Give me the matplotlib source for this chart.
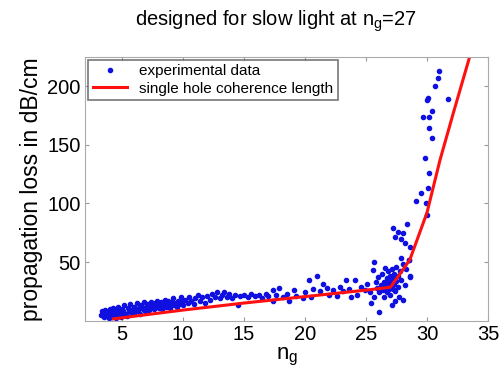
import matplotlib.pyplot as plt

plt.rcParams['font.family'] = ['Liberation Sans', 'DejaVu Sans']

# experimental data (n_g, loss in dB/cm)
exp_x = [3.3, 3.4, 3.5, 3.5, 3.6, 3.7, 3.8, 3.9, 4.0, 4.0, 4.1, 4.2, 4.3, 4.3, 4.4, 4.5, 4.5,
         4.6, 4.7, 4.8, 4.9, 5.0, 5.0, 5.1, 5.2, 5.3, 5.4, 5.5, 5.6, 5.7, 5.8, 5.9, 6.0, 6.1,
         6.2, 6.3, 6.4, 6.5, 6.6, 6.7, 6.8, 6.9, 7.0, 7.1, 7.2, 7.3, 7.4, 7.5, 7.6, 7.7, 7.8,
         7.9, 8.0, 8.1, 8.2, 8.3, 8.4, 8.5, 8.6, 8.7, 8.8, 8.9, 9.0, 9.1, 9.2, 9.3, 9.4, 9.5,
         9.6, 9.7, 9.8, 9.9, 10.0, 10.2, 10.4, 10.5, 10.7, 10.9, 11.0, 11.2, 11.4, 11.6, 11.8,
         12.0, 12.2, 12.4, 12.6, 12.8, 13.0, 13.2, 13.4, 13.6, 13.8, 14.0, 14.3, 14.5, 14.7,
         15.0, 15.3, 15.6, 15.9, 16.2, 16.5, 16.8, 17.0, 17.4, 17.4, 17.6, 17.9, 18.2, 18.5,
         18.7, 19.1, 19.3, 19.8, 20.0, 20.3, 20.5, 20.7, 21.0, 21.2, 21.5, 21.8, 22.0, 22.3,
         22.6, 22.9, 23.1, 23.4, 23.6, 23.8, 24.1, 24.3, 24.6, 24.9, 25.1, 25.3, 25.4, 25.6,
         25.7, 25.7, 25.8, 25.9, 26.0, 26.1, 26.1, 26.2, 26.3, 26.4, 26.5, 26.5, 26.6, 26.6,
         26.7, 26.7, 26.8, 26.8, 26.9, 26.9, 27.0, 27.0, 27.0, 27.1, 27.1, 27.1, 27.2, 27.2,
         27.3, 27.3, 27.4, 27.4, 27.5, 27.5, 27.6, 27.6, 27.7, 27.8, 27.9, 28.0, 28.0, 28.2,
         28.3, 28.5, 28.6, 28.6,
         27.2, 27.6, 28.0, 28.4, 27.4, 27.9, 28.2, 27.9, 28.5, 28.6,
         29.1, 29.5, 29.9, 30.0, 30.1, 30.2, 29.8, 30.4, 30.2, 30.2, 29.7, 30.4, 30.0, 30.1,
         31.7, 30.7, 30.9, 31.0]
exp_y = [5, 8, 3, 6, 9, 4, 7, 2, 5, 10, 3, 7, 4, 11, 6, 2, 9,
         5, 12, 7, 3, 10, 5, 8, 13, 6, 4, 11, 8, 14, 6, 10, 12, 7,
         15, 9, 11, 6, 13, 10, 16, 8, 12, 14, 9, 11, 16, 13, 10, 15, 12,
         17, 11, 14, 16, 10, 13, 18, 12, 15, 17, 11, 14, 16, 19, 13, 15, 12,
         17, 14, 20, 16, 13, 18, 15, 20, 17, 14, 19, 22, 17, 20, 15,
         21, 18, 23, 20, 24, 19, 22, 24, 20, 23, 19, 22, 13, 21,
         22, 20, 23, 21, 22, 19, 23, 21, 26, 17, 22, 28, 20, 23,
         17, 26, 21, 19, 24, 35, 20, 27, 38, 25, 31, 28, 22, 26,
         21, 29, 25, 35, 27, 20, 35, 22, 29, 26, 31, 24, 15, 43,
         20, 50, 33, 28, 37, 7, 24, 30, 40, 26, 33, 20, 45, 29,
         36, 24, 31, 42, 27, 34, 30, 38, 22, 13, 33, 44, 27, 36,
         31, 40, 17, 25, 34, 46, 29, 38, 20, 42, 35, 48, 18, 30,
         44, 52, 37, 63,
         79, 76, 75, 82, 71, 70, 66, 53, 52, 38,
         102, 109, 100, 90, 113, 126, 139, 156, 164, 174, 174, 179, 188, 190,
         189, 200, 207, 213]

# fitted single hole coherence length curve
fit_x = [4.3, 10, 15, 20, 25, 27, 27.8, 28.6, 30, 31.07, 32.16, 33.5, 34.0]
fit_y = [1.5, 9, 15, 20.5, 26, 28.5, 40, 52, 92, 137, 177, 225, 244]

fig = plt.figure(figsize=(5.02, 3.79), dpi=100)
ax = fig.add_axes([0.17, 0.154, 0.802, 0.696])

ax.plot(exp_x, exp_y, '.', color='#1010e0', markersize=6, label='experimental data')
ax.plot(fit_x, fit_y, '-', color='#ff1010', linewidth=2.2, label='single hole coherence length')

ax.set_xlim(2, 35)
ax.set_ylim(0, 225)
ax.set_xticks([5, 10, 15, 20, 25, 30, 35])
ax.set_yticks([50, 100, 150, 200])
ax.tick_params(direction='in', top=True, right=True, labelsize=14.5, length=3, color='#999999')
for s in ax.spines.values():
    s.set_color('#aaaaaa')

ax.set_xlabel('n$_\\mathregular{g}$', fontsize=16, labelpad=1)
ax.set_ylabel('propagation loss in dB/cm', fontsize=16.5, labelpad=3)
fig.text(0.55, 0.945, 'designed for slow light at n$_\\mathregular{g}$=27', fontsize=14.5,
         ha='center', va='center')

leg = ax.legend(loc='upper left', fontsize=11, fancybox=False, edgecolor='#555555',
                borderaxespad=0.2, handlelength=2.2, borderpad=0.3, labelspacing=0.2)
leg.get_frame().set_linewidth(1.2)

fig.savefig('out.png', dpi=100)
